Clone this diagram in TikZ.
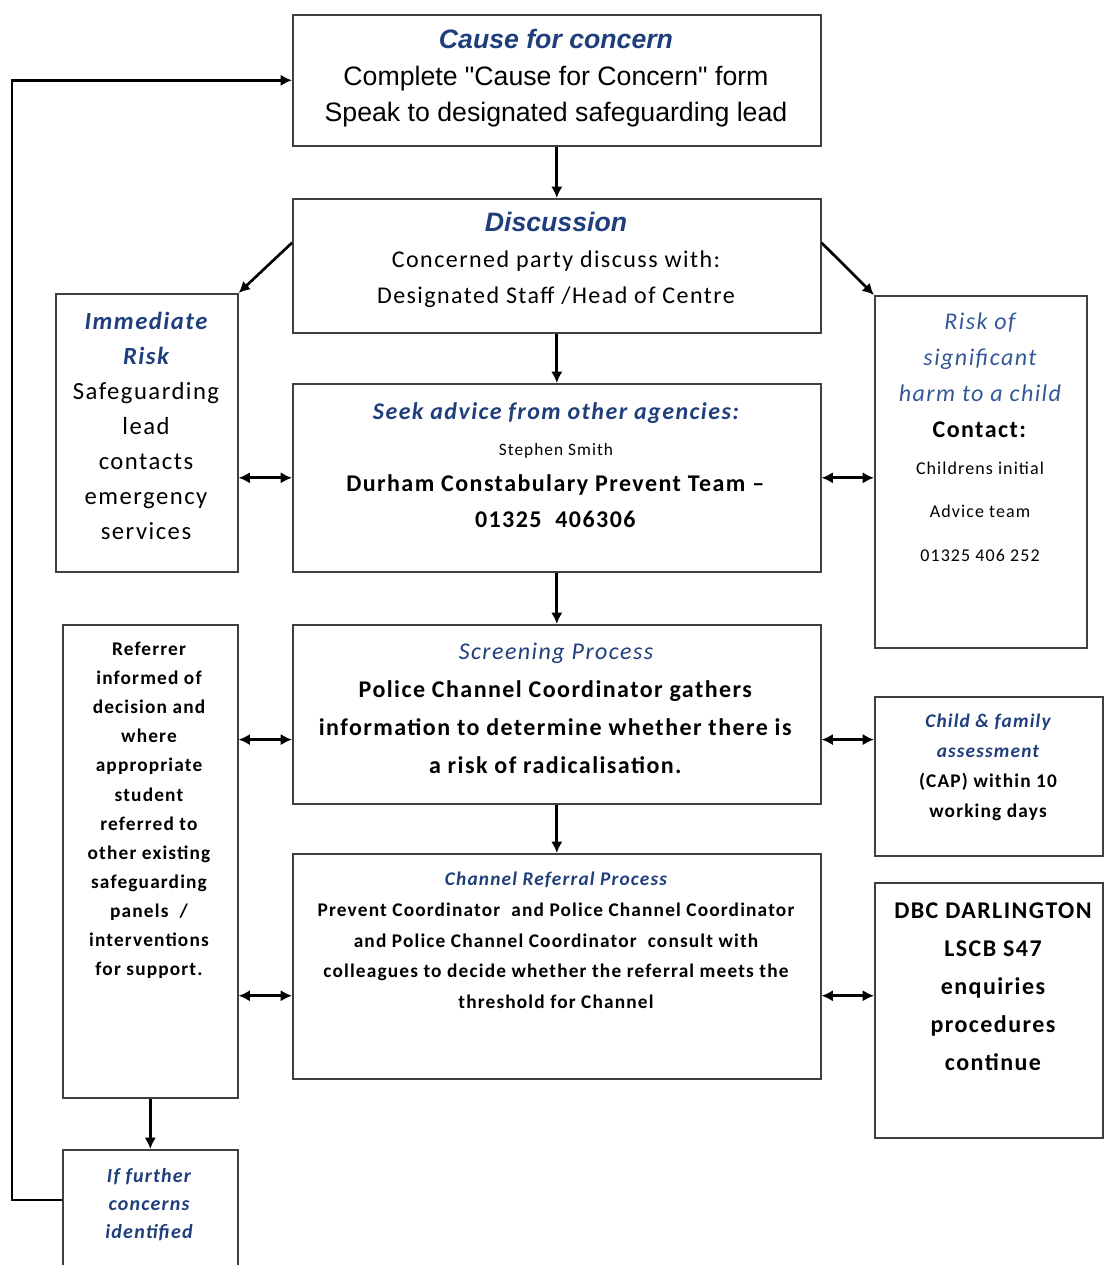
\documentclass[tikz,border=0pt]{standalone}
\usepackage{fontspec}
\setmainfont{Carlito}[LetterSpace=6]
\newfontfamily\arialfont{Liberation Sans}
\usetikzlibrary{calc,arrows.meta}

\definecolor{headblue}{RGB}{31,62,124}
\definecolor{softblue}{RGB}{52,88,150}
\definecolor{edgegrey}{RGB}{64,64,64}

\begin{document}
\begin{tikzpicture}[x=0.75pt,y=-0.75pt,
    box/.style={draw=edgegrey, line width=1.2pt, anchor=north west, inner sep=0pt},
    size/.style 2 args={minimum width={#1*0.75pt}, minimum height={#2*0.75pt}},
    txt/.style={anchor=north, align=center, inner sep=0pt},
    link/.style={-{Latex[length=8.5pt,width=8.5pt]}, line width=2pt},
    twoway/.style={{Latex[length=8.5pt,width=8.5pt]}-{Latex[length=8.5pt,width=8.5pt]}, line width=2pt}]

        \useasboundingbox (0,0) rectangle (1104,1265);
        \clip (0,0) rectangle (1104,1265);

        % Draw the boxes of the middle column
        \node[box, size={528}{131}] (cause) at (292,14) {};
        \node[box, size={528}{134}] (discuss) at (292,198) {};
        \node[box, size={528}{188}] (advice) at (292,383) {};
        \node[box, size={528}{179}] (screening) at (292,624) {};
        \node[box, size={528}{225}] (channel) at (292,853) {};

        % Draw the boxes of the left column
        \node[box, size={182}{278}] (immediate) at (55,293) {};
        \node[box, size={175}{473}] (referrer) at (62,624) {};
        \node[box, size={175}{140}] (further) at (62,1149) {};

        % Draw the boxes of the right column
        \node[box, size={212}{352}] (risk) at (874,295) {};
        \node[box, size={228}{159}] (family) at (874,696) {};
        \node[box, size={228}{255}] (dbc) at (874,882) {};

        % Texts of the middle column
        \node[txt, font=\arialfont\fontsize{20}{27.5}\selectfont] (causeT) at (556,29)
            {{\bfseries\itshape\color{headblue}Cause for concern}\\
             Complete "Cause for Concern" form\\
             Speak to designated safeguarding lead};
        \node[txt, font=\fontsize{18}{27}\selectfont] (discussT) at (556,212)
            {{\arialfont\fontsize{20}{27}\selectfont\bfseries\itshape\color{headblue}Discussion}\\
             Concerned party discuss with:\\
             Designated Staff /Head of Centre};
        \node[txt, font=\fontsize{18}{27}\selectfont] (adviceT) at (556,402)
            {{\bfseries\itshape\color{headblue}Seek advice from other agencies:}\\
             {\fontsize{13}{27}\selectfont Stephen Smith}\\
             \textbf{Durham Constabulary Prevent Team --}\\
             \textbf{01325\ \ 406306}};
        \node[txt, font=\fontsize{18}{28.5}\selectfont] (screeningT) at (556,643)
            {{\itshape\color{headblue}Screening Process}\\
             \textbf{Police Channel Coordinator gathers}\\
             \textbf{information to determine whether there is}\\
             \textbf{a risk of radicalisation.}};
        \node[txt, font=\fontsize{14.5}{23}\selectfont\bfseries] (channelT) at (556,872)
            {{\itshape\color{headblue}Channel Referral Process}\\
             Prevent Coordinator\ \ and Police Channel Coordinator\\
             and Police Channel Coordinator\ \ consult with\\
             colleagues to decide whether the referral meets the\\
             threshold for Channel};

        % Texts of the left column
        \node[txt, font=\fontsize{18.5}{26.25}\selectfont] (immediateT) at (146,312)
            {{\bfseries\itshape\color{headblue}Immediate}\\
             {\bfseries\itshape\color{headblue}Risk}\\
             Safeguarding\\ lead\\ contacts\\ emergency\\ services};
        \node[txt, font=\fontsize{14.5}{21.8}\selectfont\bfseries] (referrerT) at (149,642)
            {Referrer\\ informed of\\ decision and\\ where\\ appropriate\\ student\\
             referred to\\ other existing\\ safeguarding\\ panels\ \ /\\ interventions\\ for support.};
        \node[txt, font=\fontsize{15}{21}\selectfont\bfseries\itshape, text=headblue] (furtherT) at (149,1168)
            {If further\\ concerns\\ identified};

        % Texts of the right column
        \node[txt, font=\fontsize{18}{26.8}\selectfont] (riskT) at (980,313)
            {{\itshape\color{softblue}Risk of}\\
             {\itshape\color{softblue}significant}\\
             {\itshape\color{softblue}harm to a child}\\
             \textbf{Contact:}\\[1pt]
             {\fontsize{13.5}{26.8}\selectfont Childrens initial}\\[6pt]
             {\fontsize{13.5}{26.8}\selectfont Advice team}\\[6pt]
             {\fontsize{13.5}{26.8}\selectfont 01325 406 252}};
        \node[txt, font=\fontsize{14.5}{22.5}\selectfont\bfseries] (familyT) at (988,714)
            {{\itshape\color{headblue}Child \& family}\\
             {\itshape\color{headblue}assessment}\\
             (CAP) within 10\\ working days};
        \node[txt, font=\fontsize{18}{28.5}\selectfont\bfseries] (dbcT) at (993,902)
            {DBC DARLINGTON\\ LSCB S47\\ enquiries\\ procedures\\ continue};

        % Draw the arrows down the middle
        \draw[link] (cause) -- (discuss);
        \draw[link] (discuss) -- (advice);
        \draw[link] (advice) -- (screening);
        \draw[link] (screening) -- (channel);
        \draw[link] (referrer) -- (further);

        % Draw the slanted arrows from the discussion
        \draw[link] ($(discuss.north west)!0.33!(discuss.south west)$) -- (immediate.north east);
        \draw[link] ($(discuss.north east)!0.33!(discuss.south east)$) -- (risk.north west);

        % Draw the two-way arrows
        \draw[twoway] (immediate.east |- advice.west) -- (advice.west);
        \draw[twoway] (advice.east) -- (advice.east -| risk.west);
        \draw[twoway] ($(screening.north west)!0.64!(screening.south west)$) coordinate (s1) -- (s1 -| referrer.east);
        \draw[twoway] ($(screening.north east)!0.64!(screening.south east)$) coordinate (s2) -- (s2 -| family.west);
        \draw[twoway] ($(channel.north west)!0.63!(channel.south west)$) coordinate (c1) -- (c1 -| referrer.east);
        \draw[twoway] ($(channel.north east)!0.63!(channel.south east)$) coordinate (c2) -- (c2 -| dbc.west);

        % Draw the loop back to the start
        \coordinate (back) at ($(further.north west)+(0,51)$);
        \draw[link, line width=2.2pt] (back) -- (12,1200) |- (cause.west);

\end{tikzpicture}
\end{document}
